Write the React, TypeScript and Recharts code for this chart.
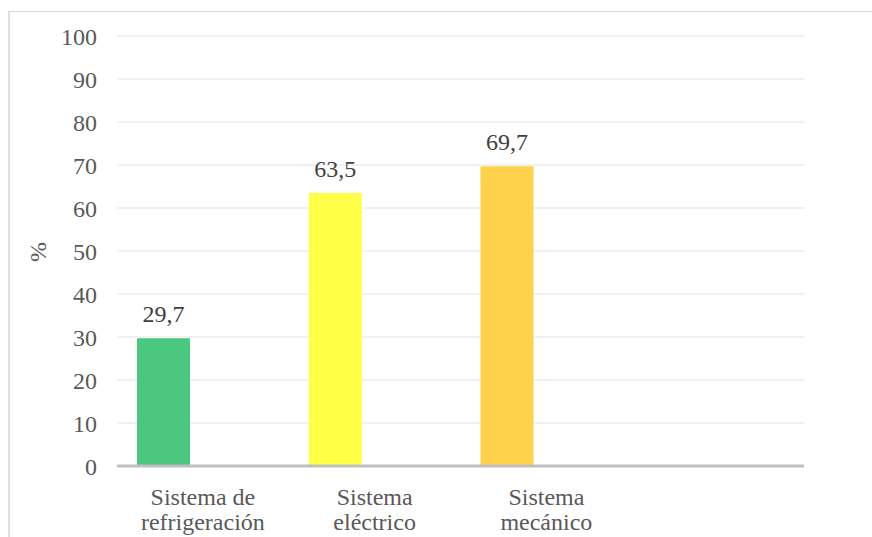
import React from 'react';
import { BarChart, Bar, XAxis, YAxis, CartesianGrid, Cell, LabelList } from 'recharts';

const categories = ['Sistema de|refrigeración', 'Sistema|eléctrico', 'Sistema|mecánico', ''];
const values: (number | null)[] = [29.7, 63.5, 69.7, null];
const barColors = ['#4BC77F', '#FFFF47', '#FFD24D', '#FFFFFF'];
const yTicks = [0, 10, 20, 30, 40, 50, 60, 70, 80, 90, 100];

const data = categories.map((c, i) => ({ name: c, v: values[i], e: null as number | null }));

const FONT = 'Liberation Serif';

const XTick = (props: any) => {
  const { x, y, payload } = props;
  const lines = String(payload.value).split('|');
  return (
    <text x={x} y={y} textAnchor="middle" fill="#595959" fontFamily={FONT} fontSize={24}>
      {lines.map((l, i) => (
        <tspan key={i} x={x} y={y + 39 + i * 25}>{l}</tspan>
      ))}
    </text>
  );
};

const ValueLabel = (props: any) => {
  const { x, y, width, value } = props;
  if (value == null) return null;
  return (
    <text x={x + width / 2} y={y - 16} textAnchor="middle" fill="#404040" fontFamily={FONT} fontSize={24}>
      {String(value).replace('.', ',')}
    </text>
  );
};

export default function App() {
  return (
    <div style={{ position: 'relative', width: 872, height: 537, background: '#fff', fontFamily: FONT }}>
      <style>{'body{margin:0;overflow:hidden}'}</style>
      <div style={{ position: 'absolute', left: 8, top: 11, width: 864, height: 1, background: '#D9D9D9' }} />
      <div style={{ position: 'absolute', left: 8, top: 11, width: 2, height: 526, background: '#E0E0E0' }} />
      <BarChart
        width={872}
        height={537}
        data={data}
        margin={{ top: 36, right: 68, bottom: 0, left: 0 }}
        barSize={53}
        barGap={26}
      >
        <CartesianGrid vertical={false} stroke="#ECECEC" strokeWidth={1.5} />
        <XAxis
          dataKey="name"
          height={71}
          tickLine={false}
          tickSize={0}
          tickMargin={0}
          axisLine={{ stroke: '#BFBFBF', strokeWidth: 3 }}
          tick={<XTick />}
          interval={0}
        />
        <YAxis
          width={117}
          domain={[0, 100]}
          ticks={yTicks}
          axisLine={false}
          tickLine={false}
          tickSize={0}
          tickMargin={20}
          tick={{ fill: '#595959', fontSize: 24, fontFamily: FONT }}
          label={{
            content: () => (
              <text x={38} y={252} transform="rotate(-90 38 252)" textAnchor="middle" dominantBaseline="central" fill="#595959" fontFamily={FONT} fontSize={24}>%</text>
            ),
          }}
        />
        <Bar dataKey="v" isAnimationActive={false}>
          {data.map((d, i) => (
            <Cell key={i} fill={barColors[i]} />
          ))}
          <LabelList dataKey="v" content={<ValueLabel />} />
        </Bar>
        <Bar dataKey="e" fill="#FFFFFF" isAnimationActive={false} />
      </BarChart>
    </div>
  );
}
